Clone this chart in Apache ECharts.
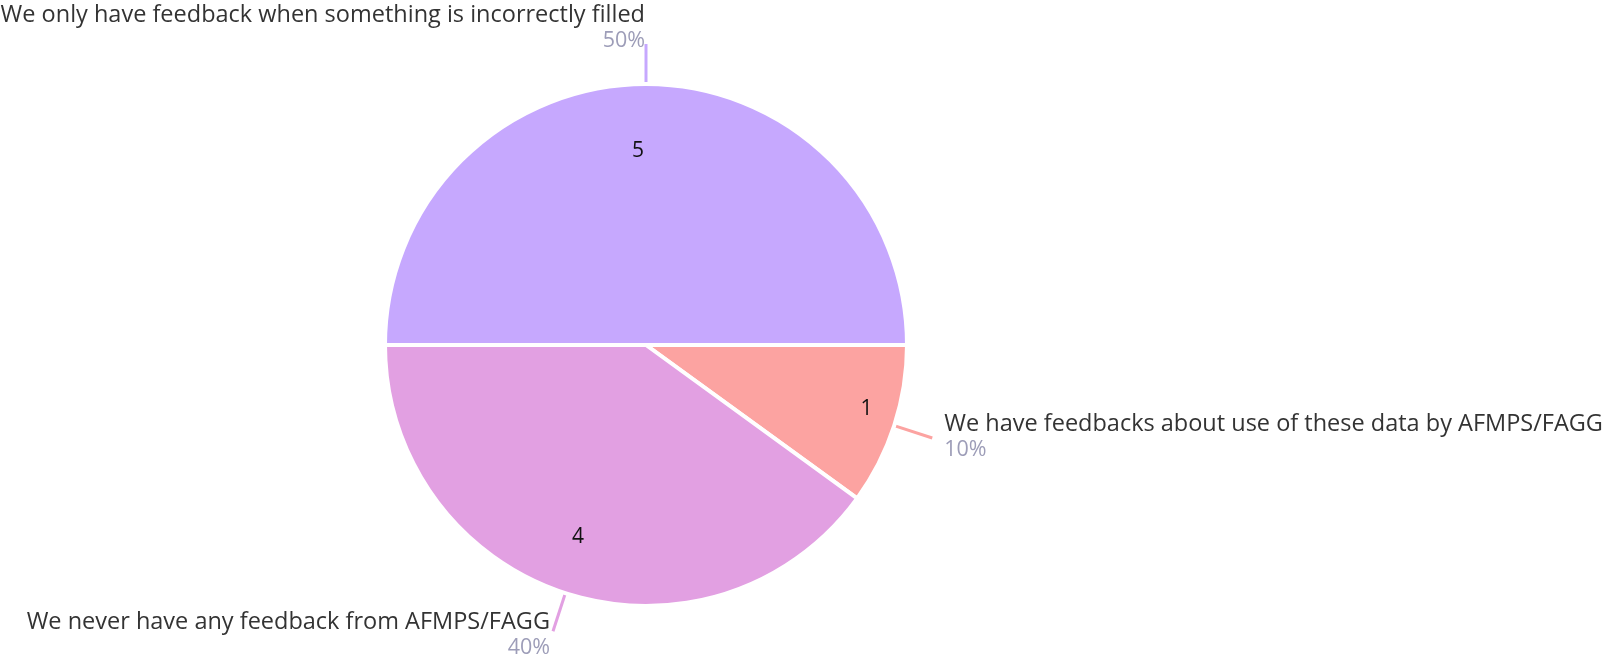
<!DOCTYPE html>
<html>
<head>
<meta charset="utf-8">
<script src="https://cdn.jsdelivr.net/npm/echarts@6/dist/echarts.min.js"></script>
<style>
  html, body { margin: 0; padding: 0; background: #fff; }
  #chart { width: 1611px; height: 659px; }
</style>
</head>
<body>
<div id="chart"></div>
<script>
// 数据：回答项与人数
const categories = [
  'We only have feedback when something is incorrectly filled',
  'We have feedbacks about use of these data by AFMPS/FAGG',
  'We never have any feedback from AFMPS/FAGG'
];
const counts = [5, 1, 4];
const colors = ['#c6a8fe', '#fca3a1', '#e2a0e2'];

const pieData = categories.map((name, i) => ({
  name: name,
  value: counts[i],
  itemStyle: { color: colors[i] },
  // 顶部标签较长，固定宽度避免被截断
  label: i === 0 ? { width: 650, overflow: 'none' } : undefined
}));

const FONT = '"Open Sans", Lato, sans-serif';
const chart = echarts.init(document.getElementById('chart'));

chart.setOption({
  backgroundColor: '#fff',
  animation: false,
  series: [
    {
      // 外侧标签 + 引导线
      type: 'pie',
      center: [646, 345],
      radius: 261,
      startAngle: 180,
      clockwise: true,
      data: pieData,
      itemStyle: { borderColor: '#fff', borderWidth: 4 },
      emphasis: { disabled: true },
      label: {
        show: true,
        position: 'outside',
        bleedMargin: 0,
        fontFamily: FONT,
        formatter: '{n|{b}}\n{p|{d}%}',
        rich: {
          n: { fontSize: 23.5, color: '#333', lineHeight: 25, fontFamily: FONT },
          p: { fontSize: 21.5, color: '#9d9db8', lineHeight: 25, fontFamily: FONT }
        }
      },
      labelLine: {
        show: true,
        length: 40,
        length2: 0,
        lineStyle: { width: 3 }
      },
      labelLayout: function (params) {
        // 顶部标签放在引导线上方、右对齐
        if (params.dataIndex === 0) {
          return { align: 'right', dx: 4, dy: -16 };
        }
        if (params.dataIndex === 1) {
          return { dx: 7, dy: -1 };
        }
        return { dx: 2, dy: 4 };
      }
    },
    {
      // 扇区内部的数值标签
      type: 'pie',
      center: [646, 345],
      radius: [140, 261],
      startAngle: 180,
      clockwise: true,
      silent: true,
      data: counts.map((v, i) => ({ name: categories[i], value: v })),
      itemStyle: { color: 'rgba(0,0,0,0)', borderWidth: 0 },
      emphasis: { disabled: true },
      label: {
        show: true,
        position: 'inside',
        formatter: '{c}',
        fontSize: 21,
        color: '#111',
        fontFamily: FONT
      },
      labelLine: { show: false },
      labelLayout: function (params) {
        if (params.dataIndex === 0) return { dx: -8, dy: 10 };
        if (params.dataIndex === 1) return { dx: 27, dy: 1 };
        return { dx: -5, dy: -2 };
      }
    }
  ]
});
</script>
</body>
</html>
